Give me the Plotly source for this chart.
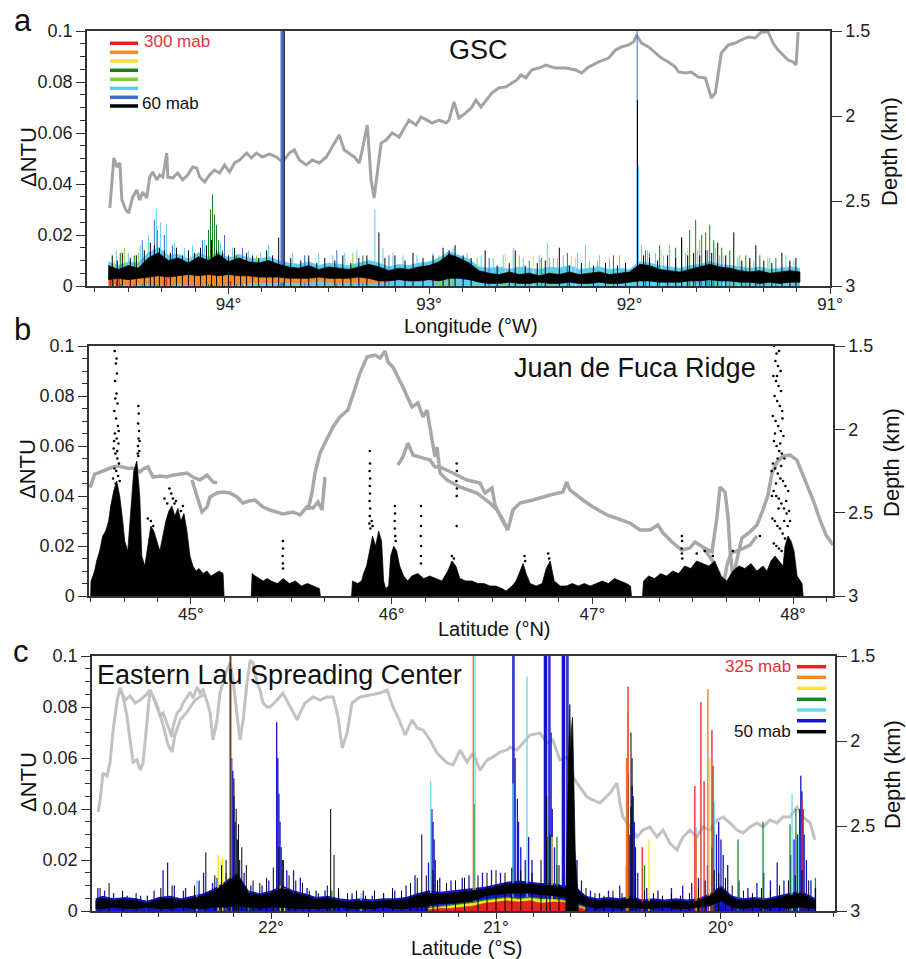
import plotly.graph_objects as go

W, H = 906, 959
FONT = "Liberation Sans, Arial, Helvetica, sans-serif"

# ======================= DATA =======================
# ---------- Panel a : GSC (longitude W, reversed) ----------
colors_a = ["#e3241e", "#f28c28", "#f0e040", "#1e7d22", "#7fcf35", "#5ccdf0", "#3f6bcc", "#000000"]
legend_a = ["300 mab", "60 mab"]

gray_a = [(94.592, 2.541), (94.582, 2.376), (94.572, 2.247), (94.557, 2.300), (94.542, 2.276), (94.532, 2.494),
          (94.512, 2.553), (94.498, 2.571), (94.478, 2.476), (94.458, 2.435), (94.443, 2.494), (94.428, 2.447),
          (94.408, 2.482), (94.393, 2.359), (94.378, 2.329), (94.358, 2.376), (94.343, 2.347), (94.328, 2.359),
          (94.308, 2.218), (94.303, 2.359), (94.279, 2.365), (94.254, 2.335), (94.229, 2.376), (94.204, 2.347),
          (94.179, 2.300), (94.159, 2.306), (94.144, 2.359), (94.119, 2.388), (94.095, 2.347), (94.070, 2.318),
          (94.045, 2.335), (94.020, 2.288), (93.995, 2.329), (93.970, 2.276), (93.945, 2.259), (93.910, 2.218),
          (93.886, 2.247), (93.861, 2.218), (93.831, 2.241), (93.796, 2.224), (93.761, 2.241), (93.731, 2.271),
          (93.697, 2.218), (93.672, 2.200), (93.647, 2.259), (93.612, 2.288), (93.582, 2.259), (93.547, 2.276),
          (93.512, 2.241), (93.483, 2.182), (93.448, 2.112), (93.423, 2.200), (93.398, 2.218), (93.373, 2.241),
          (93.348, 2.276), (93.333, 2.200), (93.308, 2.053), (93.289, 2.376), (93.274, 2.482), (93.259, 2.335),
          (93.239, 2.159), (93.214, 2.141), (93.184, 2.100), (93.149, 2.124), (93.124, 2.071), (93.100, 2.024),
          (93.065, 2.053), (93.040, 2.006), (93.010, 2.024), (92.985, 2.041), (92.950, 2.024), (92.915, 2.041),
          (92.900, 2.024), (92.876, 1.918), (92.851, 2.012), (92.816, 1.982), (92.786, 1.947), (92.766, 1.906),
          (92.741, 1.947), (92.716, 1.906), (92.687, 1.865), (92.652, 1.835), (92.617, 1.829), (92.587, 1.806),
          (92.562, 1.788), (92.542, 1.759), (92.517, 1.776), (92.488, 1.729), (92.453, 1.718), (92.418, 1.700),
          (92.368, 1.718), (92.318, 1.718), (92.269, 1.729), (92.239, 1.747), (92.204, 1.712), (92.154, 1.682),
          (92.104, 1.659), (92.070, 1.612), (92.040, 1.594), (92.005, 1.582), (91.980, 1.565), (91.965, 1.524),
          (91.940, 1.571), (91.905, 1.594), (91.871, 1.629), (91.841, 1.659), (91.806, 1.682), (91.771, 1.712),
          (91.756, 1.741), (91.721, 1.747), (91.692, 1.741), (91.657, 1.771), (91.622, 1.776), (91.607, 1.829),
          (91.592, 1.894), (91.572, 1.865), (91.557, 1.747), (91.542, 1.629), (91.507, 1.582), (91.473, 1.571),
          (91.443, 1.553), (91.408, 1.535), (91.373, 1.541), (91.343, 1.506), (91.308, 1.506), (91.284, 1.571),
          (91.259, 1.612), (91.234, 1.641), (91.209, 1.671), (91.184, 1.682), (91.169, 1.700), (91.159, 1.506)]

lon_a = [94.60, 94.55, 94.50, 94.45, 94.40, 94.35, 94.30, 94.25, 94.20, 94.15,
         94.10, 94.05, 94.00, 93.95, 93.90, 93.85, 93.80, 93.75, 93.70, 93.65,
         93.60, 93.55, 93.50, 93.45, 93.40, 93.35, 93.30, 93.25, 93.20, 93.15,
         93.10, 93.05, 93.00, 92.95, 92.90, 92.85, 92.80, 92.75, 92.70, 92.65,
         92.60, 92.55, 92.50, 92.45, 92.40, 92.35, 92.30, 92.25, 92.20, 92.15,
         92.10, 92.05, 92.00, 91.95, 91.90, 91.85, 91.80, 91.75, 91.70, 91.65,
         91.60, 91.55, 91.50, 91.45, 91.40, 91.35, 91.30, 91.25, 91.20, 91.15]
black_lo_a = [0.0025, 0.003, 0.0025, 0.003, 0.0035, 0.004, 0.0035, 0.004, 0.0045, 0.004,
              0.0045, 0.004, 0.0045, 0.004, 0.004, 0.0035, 0.0035, 0.0035, 0.003, 0.003,
              0.003, 0.0035, 0.003, 0.003, 0.003, 0.0035, 0.003, 0.002, 0.002, 0.0025,
              0.002, 0.002, 0.0025, 0.002, 0.003, 0.003, 0.0025, 0.0015, 0.001, 0.001,
              0.0015, 0.001, 0.001, 0.0015, 0.001, 0.001, 0.0015, 0.001, 0.001, 0.0015,
              0.001, 0.001, 0.0015, 0.002, 0.002, 0.0015, 0.0015, 0.0015, 0.002, 0.002,
              0.0025, 0.002, 0.002, 0.0015, 0.0015, 0.001, 0.0015, 0.001, 0.0015, 0.0015]
black_hi_a = [0.008, 0.0065, 0.008, 0.007, 0.011, 0.013, 0.010, 0.011, 0.009, 0.0115,
              0.010, 0.0125, 0.0095, 0.011, 0.0095, 0.009, 0.010, 0.0085, 0.0075, 0.007,
              0.008, 0.0065, 0.0075, 0.007, 0.0065, 0.0075, 0.0085, 0.0075, 0.006, 0.007,
              0.0065, 0.0075, 0.008, 0.0095, 0.0125, 0.011, 0.009, 0.006, 0.005, 0.0045,
              0.0055, 0.0045, 0.005, 0.004, 0.005, 0.0045, 0.0055, 0.0045, 0.005, 0.0055,
              0.0045, 0.005, 0.0055, 0.0085, 0.008, 0.0065, 0.006, 0.0055, 0.0065, 0.0075,
              0.0085, 0.0075, 0.007, 0.006, 0.0055, 0.006, 0.005, 0.0055, 0.006, 0.0055]
cyan_hi_a = [0.0095, 0.008, 0.0095, 0.009, 0.013, 0.015, 0.012, 0.0125, 0.0105, 0.013,
             0.0115, 0.0135, 0.011, 0.0125, 0.011, 0.0105, 0.0115, 0.010, 0.009, 0.0085,
             0.0095, 0.008, 0.009, 0.0085, 0.008, 0.009, 0.010, 0.009, 0.0075, 0.0085,
             0.008, 0.009, 0.0095, 0.011, 0.0135, 0.012, 0.0105, 0.0075, 0.007, 0.0075,
             0.0065, 0.0075, 0.007, 0.0065, 0.0075, 0.007, 0.008, 0.0065, 0.007, 0.0075,
             0.0065, 0.007, 0.0065, 0.0095, 0.009, 0.008, 0.0075, 0.007, 0.008, 0.0085,
             0.0095, 0.0085, 0.008, 0.0075, 0.007, 0.0075, 0.0065, 0.007, 0.0075, 0.007]
orange_lon_a = [94.60, 94.55, 94.50, 94.45, 94.40, 94.35, 94.30, 94.25, 94.20, 94.15,
                94.10, 94.05, 94.00, 93.95, 93.90, 93.85, 93.80, 93.75, 93.70, 93.65,
                93.60, 93.55, 93.50, 93.45, 93.40, 93.35, 93.30, 93.25, 93.20]
orange_lo_a = [0.0005, 0.001, 0.0003, 0.0008, 0.001, 0.0005, 0.0003, 0.001, 0.0004, 0.0002,
               0.0008, 0.0003, 0.0006, 0.001, 0.0012, 0.0015, 0.0012, 0.0015, 0.0015, 0.0012,
               0.0015, 0.0018, 0.0015, 0.0012, 0.0015, 0.0015, 0.0012, 0.0015, 0.0015]
orange_hi_a = [0.003, 0.0035, 0.003, 0.0035, 0.004, 0.0045, 0.0045, 0.005, 0.005, 0.0045,
               0.005, 0.0045, 0.005, 0.0045, 0.0045, 0.004, 0.004, 0.004, 0.0035, 0.0035,
               0.0035, 0.004, 0.0035, 0.0035, 0.004, 0.004, 0.0035, 0.003, 0.0025]

spk_a_black = [(94.58, 0.012), (94.555, 0.010), (94.53, 0.013), (94.49, 0.011), (94.46, 0.012), (94.42, 0.014),
               (94.39, 0.017), (94.37, 0.016), (94.345, 0.015), (94.32, 0.014), (94.29, 0.013), (94.26, 0.015),
               (94.23, 0.012), (94.20, 0.014), (94.17, 0.013), (94.14, 0.015), (94.11, 0.016), (94.085, 0.018),
               (94.06, 0.014), (94.03, 0.013), (94.00, 0.012), (93.97, 0.015), (93.94, 0.011), (93.91, 0.013),
               (93.88, 0.012), (93.85, 0.011), (93.81, 0.014), (93.78, 0.012), (93.75, 0.019), (93.722, 0.12),
               (93.69, 0.011), (93.64, 0.010), (93.60, 0.012), (93.56, 0.009), (93.52, 0.011), (93.47, 0.010),
               (93.43, 0.012), (93.39, 0.009), (93.35, 0.011), (93.31, 0.012), (93.25, 0.021), (93.22, 0.011),
               (93.17, 0.012), (93.12, 0.010), (93.08, 0.013), (93.03, 0.011), (92.98, 0.012), (92.93, 0.015),
               (92.90, 0.014), (92.87, 0.016), (92.83, 0.012), (92.79, 0.011), (92.72, 0.014), (92.66, 0.008),
               (92.60, 0.009), (92.57, 0.014), (92.52, 0.008), (92.46, 0.009), (92.42, 0.010), (92.35, 0.015),
               (92.30, 0.008), (92.24, 0.009), (92.18, 0.008), (92.12, 0.009), (92.06, 0.008), (92.02, 0.009),
               (91.960, 0.073), (91.93, 0.012), (91.90, 0.011), (91.86, 0.010), (91.81, 0.012), (91.77, 0.011),
               (91.74, 0.019), (91.71, 0.012), (91.68, 0.013), (91.65, 0.012), (91.62, 0.014), (91.59, 0.013),
               (91.56, 0.017), (91.52, 0.012), (91.48, 0.021), (91.44, 0.010), (91.40, 0.011), (91.37, 0.016),
               (91.33, 0.010), (91.29, 0.009), (91.24, 0.013), (91.20, 0.010), (91.17, 0.011)]
spk_a_cyan = [(94.56, 0.014), (94.50, 0.013), (94.44, 0.016), (94.40, 0.020), (94.36, 0.030), (94.34, 0.025),
              (94.31, 0.024), (94.27, 0.017), (94.22, 0.015), (94.18, 0.016), (94.12, 0.018), (94.04, 0.017),
              (93.98, 0.015), (93.90, 0.014), (93.84, 0.013), (93.80, 0.016), (93.68, 0.013), (93.62, 0.012),
              (93.55, 0.013), (93.48, 0.012), (93.42, 0.013), (93.36, 0.014), (93.27, 0.030), (93.23, 0.015),
              (93.18, 0.013), (93.13, 0.012), (93.06, 0.012), (92.98, 0.013), (92.88, 0.015), (92.81, 0.013),
              (92.74, 0.012), (92.68, 0.011), (92.63, 0.012), (92.58, 0.015), (92.53, 0.011), (92.45, 0.012),
              (92.41, 0.017), (92.36, 0.011), (92.33, 0.012), (92.26, 0.013), (92.22, 0.016), (92.15, 0.012),
              (92.10, 0.011), (92.05, 0.012), (91.955, 0.047), (91.94, 0.016), (91.91, 0.014), (91.87, 0.013),
              (91.83, 0.012), (91.72, 0.013), (91.66, 0.014), (91.55, 0.012), (91.46, 0.011), (91.38, 0.010),
              (91.30, 0.011), (91.22, 0.012), (91.18, 0.010)]
spk_a_dkgreen = [(94.54, 0.013), (94.47, 0.012), (94.10, 0.022), (94.09, 0.030), (94.08, 0.036), (94.07, 0.028),
                 (94.06, 0.024), (94.05, 0.018), (94.03, 0.014), (93.96, 0.012), (93.33, 0.012), (92.44, 0.011),
                 (92.31, 0.013), (92.08, 0.012), (91.92, 0.014), (91.85, 0.016), (91.77, 0.015), (91.74, 0.019),
                 (91.70, 0.022), (91.67, 0.026), (91.64, 0.020), (91.62, 0.021), (91.60, 0.024), (91.58, 0.018),
                 (91.54, 0.015), (91.50, 0.014), (91.42, 0.012), (91.35, 0.012), (91.27, 0.011)]
spk_a_ltgreen = [(94.52, 0.015), (94.45, 0.013), (94.14, 0.013), (93.86, 0.012), (93.38, 0.013), (92.95, 0.012),
                 (92.76, 0.011), (92.55, 0.012), (92.38, 0.011), (92.20, 0.010), (91.80, 0.016), (91.65, 0.018),
                 (91.57, 0.015), (91.45, 0.012), (91.31, 0.011)]
spk_a_ltgreen_low = [(92.96, 0.003), (92.94, 0.0035), (92.92, 0.003), (92.90, 0.0028), (92.88, 0.0025),
                     (92.62, 0.0012), (92.40, 0.0012), (92.10, 0.0012)]
spk_a_yellow = [(94.57, 0.010), (93.92, 0.011), (92.62, 0.013), (92.48, 0.012), (92.29, 0.012), (92.27, 0.011),
                (91.84, 0.014), (91.71, 0.015), (91.53, 0.012)]
spk_a_blue = [(94.43, 0.018), (94.37, 0.026), (94.355, 0.022), (94.32, 0.020), (94.28, 0.016), (94.13, 0.018),
              (94.02, 0.020), (93.93, 0.015), (93.62, 0.012), (93.46, 0.014), (93.20, 0.012), (92.70, 0.011),
              (92.50, 0.010), (91.962, 0.12), (91.90, 0.013), (91.61, 0.014)]
spk_a_blue_wide = [(93.732, 0.12)]
spk_a_orange = [(94.49, 0.010), (92.40, 0.011), (92.16, 0.010), (91.40, 0.010), (91.20, 0.009)]
spk_a_red = [(94.59, 0.003), (94.575, 0.0025), (94.56, 0.002), (94.545, 0.003), (94.31, 0.003), (93.99, 0.002)]

# ---------- Panel b : Juan de Fuca Ridge (latitude N) ----------
gray_b1 = [(44.497, 2.35), (44.52, 2.27), (44.547, 2.256), (44.58, 2.24), (44.611, 2.226), (44.64, 2.22),
           (44.661, 2.226), (44.69, 2.235), (44.706, 2.232), (44.73, 2.24), (44.746, 2.256), (44.765, 2.235),
           (44.786, 2.226), (44.811, 2.286), (44.85, 2.28), (44.880, 2.286), (44.91, 2.275), (44.945, 2.270),
           (44.980, 2.262), (45.010, 2.286), (45.045, 2.304), (45.080, 2.274), (45.110, 2.316), (45.130, 2.322)]
gray_b2 = [(45.005, 2.304), (45.030, 2.406), (45.055, 2.496), (45.080, 2.466), (45.095, 2.406), (45.130, 2.382),
           (45.159, 2.376), (45.194, 2.382), (45.229, 2.406), (45.259, 2.442), (45.289, 2.43), (45.319, 2.424),
           (45.359, 2.466), (45.394, 2.484), (45.429, 2.496), (45.458, 2.508), (45.508, 2.496), (45.543, 2.514),
           (45.578, 2.466), (45.608, 2.472), (45.633, 2.436), (45.653, 2.484), (45.668, 2.286)]
gray_b3 = [(45.583, 2.484), (45.603, 2.382), (45.618, 2.262), (45.643, 2.142), (45.683, 2.046), (45.708, 1.986),
           (45.742, 1.926), (45.782, 1.884), (45.807, 1.794), (45.842, 1.662), (45.877, 1.566), (45.917, 1.554),
           (45.942, 1.572), (45.967, 1.530), (45.982, 1.596), (46.006, 1.626), (46.056, 1.746), (46.101, 1.866),
           (46.131, 1.842), (46.156, 1.926), (46.176, 1.884), (46.201, 2.064), (46.216, 2.166), (46.226, 2.106),
           (46.241, 2.262), (46.276, 2.304), (46.340, 2.346), (46.425, 2.382), (46.490, 2.442), (46.525, 2.484),
           (46.555, 2.544), (46.579, 2.604), (46.604, 2.484), (46.639, 2.442), (46.704, 2.424), (46.789, 2.394),
           (46.853, 2.376), (46.873, 2.316), (46.888, 2.364), (46.953, 2.424), (47.003, 2.466), (47.073, 2.514),
           (47.138, 2.544), (47.187, 2.562), (47.237, 2.604), (47.287, 2.604), (47.327, 2.574), (47.352, 2.622),
           (47.402, 2.682), (47.446, 2.724), (47.486, 2.712), (47.511, 2.676), (47.551, 2.706), (47.596, 2.736),
           (47.621, 2.526), (47.636, 2.346), (47.661, 2.376), (47.676, 2.526), (47.686, 2.724), (47.701, 2.892),
           (47.720, 2.784), (47.745, 2.652), (47.785, 2.616), (47.820, 2.574), (47.850, 2.484), (47.875, 2.394),
           (47.895, 2.262), (47.920, 2.196), (47.950, 2.160), (47.985, 2.154), (48.019, 2.184), (48.044, 2.256),
           (48.074, 2.346), (48.104, 2.436), (48.134, 2.544), (48.164, 2.634), (48.199, 2.694)]
gray_b4 = [(46.031, 2.214), (46.056, 2.166), (46.081, 2.082), (46.106, 2.154), (46.15, 2.17), (46.191, 2.184),
           (46.216, 2.226), (46.241, 2.226), (46.305, 2.262), (46.375, 2.304), (46.440, 2.322), (46.465, 2.382),
           (46.500, 2.352), (46.515, 2.454), (46.550, 2.544), (46.579, 2.604)]
gray_b5 = [(47.551, 2.706), (47.596, 2.784), (47.636, 2.874), (47.656, 2.916), (47.671, 2.814), (47.691, 2.742),
           (47.735, 2.724), (47.785, 2.694), (47.820, 2.640)]

dense_b1 = [(44.500, 0.0), (44.502, 0.006), (44.52, 0.010), (44.53, 0.014), (44.545, 0.018), (44.56, 0.024),
            (44.575, 0.026), (44.59, 0.030), (44.60, 0.036), (44.615, 0.042), (44.63, 0.046), (44.645, 0.040),
            (44.66, 0.030), (44.67, 0.022), (44.685, 0.018), (44.70, 0.036), (44.715, 0.050), (44.73, 0.054),
            (44.745, 0.040), (44.755, 0.016), (44.77, 0.012), (44.785, 0.020), (44.80, 0.028), (44.815, 0.026),
            (44.83, 0.022), (44.845, 0.018), (44.86, 0.024), (44.875, 0.030), (44.89, 0.034), (44.905, 0.036),
            (44.92, 0.032), (44.935, 0.035), (44.95, 0.030), (44.965, 0.033), (44.98, 0.026), (44.995, 0.016),
            (45.01, 0.012), (45.025, 0.010), (45.04, 0.011), (45.06, 0.009), (45.08, 0.010), (45.10, 0.008),
            (45.12, 0.009), (45.14, 0.010), (45.16, 0.009), (45.165, 0.0)]
dense_b2 = [(45.30, 0.0), (45.305, 0.009), (45.32, 0.008), (45.34, 0.007), (45.36, 0.006), (45.38, 0.007),
            (45.40, 0.006), (45.43, 0.005), (45.46, 0.007), (45.49, 0.005), (45.52, 0.006), (45.55, 0.004),
            (45.58, 0.005), (45.61, 0.004), (45.64, 0.003), (45.645, 0.0)]
dense_b3 = [(45.80, 0.0), (45.805, 0.006), (45.83, 0.005), (45.85, 0.006), (45.86, 0.009), (45.875, 0.012),
            (45.89, 0.018), (45.905, 0.024), (45.92, 0.020), (45.935, 0.026), (45.95, 0.022), (45.96, 0.006),
            (45.97, 0.003), (45.985, 0.004), (45.995, 0.016), (46.01, 0.020), (46.025, 0.018), (46.04, 0.012),
            (46.06, 0.008), (46.08, 0.006), (46.10, 0.008), (46.13, 0.009), (46.16, 0.007), (46.19, 0.008),
            (46.22, 0.007), (46.25, 0.006), (46.28, 0.010), (46.30, 0.014), (46.32, 0.012), (46.34, 0.007),
            (46.37, 0.006), (46.40, 0.006), (46.43, 0.005), (46.46, 0.005), (46.49, 0.004), (46.52, 0.004),
            (46.55, 0.003), (46.57, 0.002), (46.60, 0.004), (46.62, 0.006), (46.64, 0.010), (46.655, 0.013),
            (46.67, 0.009), (46.69, 0.005), (46.72, 0.004), (46.75, 0.005), (46.77, 0.011), (46.79, 0.014),
            (46.81, 0.006), (46.84, 0.004), (46.87, 0.004), (46.90, 0.005), (46.93, 0.004), (46.96, 0.005),
            (46.99, 0.004), (47.02, 0.005), (47.05, 0.006), (47.08, 0.005), (47.11, 0.007), (47.14, 0.006),
            (47.17, 0.005), (47.19, 0.004), (47.195, 0.0)]
dense_b4 = [(47.25, 0.0), (47.255, 0.006), (47.28, 0.008), (47.31, 0.007), (47.34, 0.009), (47.37, 0.008),
            (47.40, 0.010), (47.43, 0.009), (47.46, 0.012), (47.49, 0.011), (47.52, 0.014), (47.55, 0.013),
            (47.58, 0.012), (47.61, 0.014), (47.64, 0.008), (47.67, 0.006), (47.70, 0.010), (47.73, 0.012),
            (47.76, 0.011), (47.79, 0.013), (47.82, 0.010), (47.85, 0.012), (47.87, 0.010), (47.89, 0.014),
            (47.91, 0.016), (47.93, 0.014), (47.95, 0.012), (47.96, 0.020), (47.975, 0.024), (47.99, 0.022),
            (48.005, 0.018), (48.02, 0.008), (48.035, 0.006), (48.045, 0.005), (48.05, 0.0)]
dots_b = [(44.620, 0.098), (44.626, 0.093), (44.631, 0.089), (44.622, 0.086), (44.629, 0.081), (44.634, 0.077),
          (44.618, 0.074), (44.627, 0.071), (44.636, 0.068), (44.621, 0.065), (44.630, 0.063), (44.639, 0.061),
          (44.615, 0.059), (44.624, 0.057), (44.633, 0.055), (44.641, 0.053), (44.619, 0.051), (44.628, 0.050),
          (44.637, 0.048), (44.612, 0.047), (44.645, 0.046), (44.625, 0.045), (44.632, 0.058), (44.617, 0.062),
          (44.640, 0.066), (44.623, 0.079), (44.629, 0.095),
          (44.738, 0.076), (44.740, 0.073), (44.737, 0.069), (44.741, 0.066), (44.739, 0.063), (44.736, 0.060),
          (44.742, 0.058), (44.738, 0.056), (44.744, 0.062), (44.735, 0.057),
          (44.785, 0.031), (44.800, 0.030), (44.812, 0.028), (44.868, 0.039), (44.882, 0.037), (44.893, 0.043),
          (44.902, 0.041), (44.910, 0.039), (44.918, 0.037), (44.925, 0.038), (44.950, 0.034), (44.960, 0.036),
          (45.458, 0.022), (45.459, 0.019), (45.457, 0.016), (45.458, 0.013), (45.459, 0.011),
          (45.891, 0.058), (45.892, 0.053), (45.890, 0.050), (45.893, 0.047), (45.891, 0.044), (45.892, 0.041),
          (45.890, 0.038), (45.893, 0.035), (45.891, 0.032), (45.889, 0.029), (45.894, 0.027), (45.900, 0.030),
          (45.905, 0.028),
          (46.016, 0.036), (46.017, 0.033), (46.015, 0.030), (46.016, 0.027), (46.018, 0.024), (46.020, 0.022),
          (46.146, 0.036), (46.147, 0.032), (46.146, 0.028), (46.145, 0.024), (46.147, 0.020), (46.146, 0.016),
          (46.146, 0.013),
          (46.324, 0.053), (46.325, 0.050), (46.323, 0.046), (46.325, 0.043), (46.324, 0.040), (46.324, 0.028),
          (46.300, 0.016), (46.310, 0.015),
          (46.662, 0.016), (46.665, 0.014), (46.780, 0.017), (46.785, 0.015),
          (47.446, 0.024), (47.447, 0.022), (47.445, 0.019), (47.446, 0.017), (47.448, 0.015), (47.560, 0.018),
          (47.520, 0.017), (47.600, 0.016), (47.835, 0.024), (47.700, 0.018),
          (47.905, 0.100), (47.918, 0.097), (47.930, 0.098), (47.912, 0.094), (47.925, 0.092), (47.938, 0.090),
          (47.902, 0.088), (47.915, 0.086), (47.928, 0.084), (47.940, 0.082), (47.908, 0.080), (47.921, 0.078),
          (47.934, 0.076), (47.946, 0.074), (47.899, 0.072), (47.913, 0.070), (47.926, 0.068), (47.939, 0.066),
          (47.952, 0.064), (47.905, 0.062), (47.918, 0.060), (47.931, 0.058), (47.944, 0.057), (47.957, 0.055),
          (47.900, 0.053), (47.911, 0.051), (47.924, 0.049), (47.937, 0.047), (47.950, 0.046), (47.962, 0.044),
          (47.903, 0.042), (47.916, 0.040), (47.929, 0.039), (47.942, 0.037), (47.955, 0.035), (47.968, 0.033),
          (47.897, 0.031), (47.909, 0.030), (47.922, 0.028), (47.935, 0.027), (47.948, 0.025), (47.960, 0.023),
          (47.973, 0.028), (47.980, 0.034), (47.904, 0.021), (47.917, 0.020), (47.930, 0.019), (47.943, 0.018),
          (47.956, 0.030), (47.966, 0.038), (47.976, 0.042), (47.985, 0.030), (47.910, 0.065), (47.923, 0.055),
          (47.936, 0.061), (47.947, 0.071), (47.915, 0.045), (47.928, 0.035), (47.941, 0.052), (47.920, 0.088),
          (47.893, 0.050), (47.895, 0.040)]

# ---------- Panel c : Eastern Lau Spreading Center (latitude S, reversed) ----------
colors_c = ["#e8221e", "#f28a1e", "#f4e81a", "#178a2c", "#6cd8f0", "#1414c8", "#000000"]
legend_c = ["325 mab", "50 mab"]

gray_c1 = [(22.769, 2.418), (22.760, 2.347), (22.747, 2.188), (22.729, 2.206), (22.716, 2.129), (22.702, 1.935),
           (22.684, 1.759), (22.671, 1.688), (22.658, 1.741), (22.640, 1.859), (22.627, 1.994), (22.613, 2.124),
           (22.596, 2.112), (22.582, 2.171), (22.569, 2.129), (22.551, 1.859), (22.538, 1.700), (22.524, 1.741),
           (22.507, 1.800), (22.493, 1.853), (22.480, 1.835), (22.462, 1.894), (22.449, 1.935), (22.440, 1.976),
           (22.436, 1.918), (22.418, 1.835), (22.404, 1.818), (22.391, 1.776), (22.373, 1.741), (22.360, 1.712),
           (22.347, 1.747), (22.329, 1.682), (22.316, 1.718), (22.302, 1.700), (22.284, 1.771), (22.271, 1.835),
           (22.258, 1.994), (22.240, 1.876), (22.227, 1.718), (22.213, 1.659), (22.196, 1.582), (22.182, 1.541),
           (22.169, 1.641), (22.151, 1.847), (22.138, 1.994), (22.124, 1.876), (22.107, 1.659), (22.093, 1.524),
           (22.080, 1.541), (22.062, 1.659), (22.049, 1.700), (22.036, 1.776), (22.018, 1.800), (22.004, 1.800),
           (21.973, 1.759), (21.947, 1.718), (21.916, 1.800), (21.884, 1.876), (21.871, 1.835), (21.849, 1.776),
           (21.813, 1.741), (21.782, 1.759), (21.751, 1.741), (21.724, 1.741), (21.702, 1.859), (21.684, 2.041),
           (21.662, 1.953), (21.640, 1.776), (21.604, 1.741), (21.560, 1.729), (21.516, 1.718), (21.484, 1.700),
           (21.458, 1.800), (21.436, 1.859), (21.404, 1.965), (21.373, 1.876), (21.351, 1.924), (21.324, 1.935),
           (21.293, 1.994), (21.262, 2.071), (21.218, 2.129), (21.191, 2.141), (21.160, 2.053), (21.129, 2.124),
           (21.102, 2.071), (21.071, 2.171), (21.040, 2.112), (21.013, 2.094), (20.982, 2.065), (20.951, 2.053),
           (20.938, 2.035), (20.907, 2.053), (20.880, 2.012), (20.849, 1.965), (20.804, 1.953), (20.773, 2.012),
           (20.747, 1.994), (20.716, 2.112), (20.684, 2.094), (20.658, 2.212), (20.627, 2.271), (20.596, 2.329),
           (20.569, 2.347), (20.538, 2.365), (20.493, 2.306), (20.462, 2.247), (20.449, 2.365), (20.436, 2.447),
           (20.404, 2.506), (20.373, 2.565), (20.347, 2.524), (20.316, 2.506), (20.284, 2.565), (20.258, 2.524),
           (20.227, 2.600), (20.196, 2.641), (20.169, 2.565), (20.138, 2.524), (20.107, 2.565), (20.080, 2.506),
           (20.049, 2.524), (20.018, 2.465), (19.991, 2.447), (19.960, 2.482), (19.929, 2.524), (19.902, 2.541),
           (19.871, 2.506), (19.840, 2.482), (19.813, 2.506), (19.782, 2.465), (19.751, 2.482), (19.724, 2.447),
           (19.693, 2.447), (19.662, 2.388), (19.636, 2.447), (19.604, 2.482), (19.582, 2.582)]
gray_c2 = [(22.671, 1.688), (22.649, 1.759), (22.627, 1.735), (22.604, 1.776), (22.582, 1.759), (22.560, 1.735),
           (22.538, 1.700)]
gray_c3 = [(22.538, 1.700), (22.507, 1.788), (22.480, 1.906), (22.458, 2.024), (22.440, 2.065), (22.427, 1.965),
           (22.404, 1.876), (22.373, 1.829), (22.338, 1.759), (22.302, 1.729)]

lat_c = [22.78, 22.75, 22.70, 22.65, 22.60, 22.55, 22.50, 22.45, 22.40, 22.35,
         22.30, 22.25, 22.20, 22.15, 22.10, 22.05, 22.00, 21.95, 21.90, 21.85,
         21.80, 21.75, 21.70, 21.65, 21.60, 21.55, 21.50, 21.45, 21.40, 21.35,
         21.30, 21.25, 21.20, 21.15, 21.10, 21.05, 21.00, 20.95, 20.90, 20.85,
         20.80, 20.75, 20.70, 20.65, 20.60, 20.55, 20.50, 20.45, 20.40, 20.35,
         20.30, 20.25, 20.20, 20.15, 20.10, 20.05, 20.00, 19.95, 19.90, 19.85,
         19.80, 19.75, 19.70, 19.65, 19.60, 19.58]
black_hi_c = [0.004, 0.005, 0.004, 0.0045, 0.004, 0.003, 0.0045, 0.005, 0.004, 0.005,
              0.006, 0.008, 0.011, 0.014, 0.007, 0.006, 0.007, 0.009, 0.007, 0.006,
              0.0045, 0.005, 0.004, 0.0035, 0.004, 0.0035, 0.004, 0.004, 0.0045, 0.006,
              0.007, 0.0065, 0.007, 0.0075, 0.008, 0.0085, 0.0095, 0.0105, 0.011, 0.0105,
              0.010, 0.010, 0.009, 0.009, 0.005, 0.004, 0.0045, 0.004, 0.005, 0.0035,
              0.004, 0.0035, 0.004, 0.0035, 0.004, 0.006, 0.009, 0.005, 0.004, 0.0045,
              0.004, 0.005, 0.006, 0.007, 0.005, 0.004]
black_lo_c = [0.001, 0.001, 0.0015, 0.001, 0.001, 0.0015, 0.001, 0.001, 0.0015, 0.001,
              0.001, 0.0015, 0.0015, 0.002, 0.0015, 0.001, 0.0015, 0.0015, 0.001, 0.001,
              0.001, 0.001, 0.0015, 0.001, 0.001, 0.001, 0.0015, 0.001, 0.001, 0.0015,
              0.002, 0.003, 0.003, 0.0035, 0.004, 0.006, 0.0065, 0.007, 0.007, 0.007,
              0.0065, 0.006, 0.0055, 0.004, 0.002, 0.001, 0.0015, 0.001, 0.0015, 0.001,
              0.001, 0.0015, 0.001, 0.001, 0.0015, 0.002, 0.004, 0.0015, 0.001, 0.0015,
              0.001, 0.0015, 0.001, 0.0015, 0.001, 0.001]
blue_hi_c = [0.005, 0.006, 0.005, 0.0055, 0.005, 0.004, 0.0055, 0.006, 0.005, 0.006,
             0.007, 0.009, 0.012, 0.015, 0.008, 0.007, 0.008, 0.010, 0.008, 0.007,
             0.0055, 0.006, 0.005, 0.0045, 0.005, 0.0045, 0.005, 0.005, 0.0055, 0.007,
             0.008, 0.0075, 0.008, 0.0085, 0.009, 0.0095, 0.0105, 0.0115, 0.012, 0.0115,
             0.011, 0.011, 0.010, 0.010, 0.006, 0.005, 0.0055, 0.005, 0.006, 0.0045,
             0.005, 0.0045, 0.005, 0.0045, 0.005, 0.007, 0.010, 0.006, 0.005, 0.0055,
             0.005, 0.006, 0.007, 0.008, 0.006, 0.005]
lat_c_sub = [21.30, 21.25, 21.20, 21.15, 21.10, 21.05, 21.00, 20.95, 20.90, 20.85, 20.80, 20.75, 20.70, 20.65, 20.60]
green_under_c = [0.0015, 0.002, 0.0025, 0.003, 0.0035, 0.0045, 0.005, 0.0055, 0.005, 0.0055, 0.005, 0.0045, 0.0045, 0.003, 0.0015]
yellow_under_c = [0.001, 0.0015, 0.002, 0.0025, 0.003, 0.004, 0.0045, 0.005, 0.0045, 0.005, 0.0045, 0.0045, 0.004, 0.0025, 0.001]
red_under_c = [0.0005, 0.001, 0.001, 0.0015, 0.002, 0.003, 0.0035, 0.004, 0.0035, 0.004, 0.003, 0.0035, 0.0035, 0.002, 0.0005]

spk_c_blue = [(22.77, 0.009), (22.74, 0.008), (22.70, 0.007), (22.64, 0.006), (22.58, 0.006), (22.52, 0.008),
              (22.48, 0.016), (22.46, 0.019), (22.43, 0.010), (22.38, 0.009), (22.32, 0.012), (22.30, 0.015),
              (22.26, 0.011), (22.24, 0.013), (22.20, 0.015), (22.175, 0.060), (22.17, 0.055), (22.165, 0.045),
              (22.16, 0.035), (22.15, 0.028), (22.14, 0.020), (22.12, 0.015), (22.09, 0.010), (22.04, 0.010),
              (22.01, 0.012), (21.975, 0.074), (21.97, 0.060), (21.965, 0.046), (21.96, 0.035), (21.955, 0.025),
              (21.945, 0.020), (21.93, 0.016), (21.90, 0.016), (21.87, 0.013), (21.84, 0.009), (21.80, 0.008),
              (21.76, 0.008), (21.70, 0.007), (21.64, 0.007), (21.59, 0.008), (21.55, 0.006), (21.50, 0.007),
              (21.45, 0.008), (21.40, 0.010), (21.36, 0.014), (21.30, 0.019), (21.285, 0.040), (21.28, 0.035),
              (21.275, 0.028), (21.27, 0.020), (21.25, 0.013), (21.20, 0.012), (21.15, 0.013), (21.12, 0.014),
              (21.06, 0.015), (21.02, 0.016), (20.98, 0.015), (20.925, 0.12), (20.92, 0.12), (20.915, 0.06),
              (20.905, 0.044), (20.90, 0.035), (20.89, 0.025), (20.87, 0.020), (20.855, 0.029), (20.84, 0.020),
              (20.785, 0.12), (20.78, 0.12), (20.775, 0.12), (20.765, 0.12), (20.76, 0.12), (20.755, 0.07),
              (20.75, 0.040), (20.74, 0.025), (20.73, 0.018), (20.705, 0.12), (20.70, 0.12), (20.695, 0.12),
              (20.685, 0.12), (20.68, 0.12), (20.675, 0.05), (20.66, 0.030), (20.64, 0.020), (20.62, 0.012),
              (20.58, 0.008), (20.54, 0.007), (20.50, 0.008), (20.45, 0.010), (20.42, 0.018), (20.405, 0.030),
              (20.40, 0.041), (20.395, 0.049), (20.39, 0.045), (20.385, 0.035), (20.38, 0.025), (20.37, 0.015),
              (20.33, 0.009), (20.28, 0.008), (20.22, 0.009), (20.17, 0.010), (20.13, 0.011), (20.10, 0.013),
              (20.06, 0.018), (20.04, 0.025), (20.03, 0.033), (20.02, 0.030), (20.01, 0.035), (20.00, 0.028),
              (19.99, 0.022), (19.97, 0.018), (19.92, 0.012), (19.88, 0.009), (19.84, 0.011), (19.81, 0.015),
              (19.78, 0.012), (19.75, 0.019), (19.72, 0.012), (19.69, 0.022), (19.675, 0.028), (19.66, 0.030),
              (19.65, 0.040), (19.645, 0.053), (19.64, 0.047), (19.635, 0.040), (19.63, 0.030), (19.62, 0.020),
              (19.60, 0.012), (19.58, 0.009)]
spk_c_cyan = [(22.55, 0.006), (22.33, 0.012), (21.60, 0.007), (21.29, 0.051), (21.093, 0.12), (20.925, 0.050),
              (20.862, 0.092), (20.415, 0.033), (20.11, 0.033), (20.03, 0.043), (19.684, 0.046), (19.655, 0.030)]
spk_c_green = [(22.10, 0.008), (21.73, 0.008), (21.098, 0.042), (20.77, 0.029), (20.729, 0.029), (20.412, 0.054),
               (20.34, 0.018), (20.035, 0.057), (19.924, 0.028), (19.813, 0.035), (19.693, 0.034), (19.667, 0.040),
               (19.58, 0.013)]
spk_c_yellow = [(22.235, 0.022), (22.22, 0.020), (22.215, 0.021), (22.20, 0.015), (21.96, 0.010), (21.94, 0.009),
                (20.415, 0.078), (20.32, 0.028), (20.05, 0.060), (20.751, 0.029), (19.70, 0.006)]
spk_c_orange = [(22.178, 0.12), (21.101, 0.12), (20.058, 0.087), (20.11, 0.030), (20.42, 0.060)]
spk_c_red = [(20.413, 0.088), (20.35, 0.025), (20.116, 0.049), (20.089, 0.082), (20.075, 0.051), (20.04, 0.071),
             (19.64, 0.043)]
spk_c_black = [(22.76, 0.009), (22.72, 0.011), (22.66, 0.008), (22.60, 0.007), (22.55, 0.006), (22.49, 0.009),
               (22.44, 0.010), (22.39, 0.008), (22.34, 0.010), (22.29, 0.023), (22.25, 0.014), (22.22, 0.018),
               (22.20, 0.020), (22.182, 0.12), (22.165, 0.052), (22.155, 0.040), (22.145, 0.034), (22.13, 0.025),
               (22.11, 0.018), (22.08, 0.012), (22.05, 0.011), (22.02, 0.013), (21.99, 0.017), (21.965, 0.025),
               (21.95, 0.020), (21.92, 0.014), (21.89, 0.012), (21.86, 0.011), (21.83, 0.008), (21.79, 0.007),
               (21.75, 0.010), (21.735, 0.040), (21.72, 0.022), (21.70, 0.009), (21.66, 0.007), (21.62, 0.008),
               (21.58, 0.006), (21.54, 0.008), (21.50, 0.007), (21.46, 0.009), (21.42, 0.008), (21.38, 0.011),
               (21.35, 0.013), (21.33, 0.030), (21.31, 0.014), (21.28, 0.016), (21.26, 0.012), (21.22, 0.011),
               (21.18, 0.012), (21.14, 0.013), (21.08, 0.014), (21.04, 0.015), (21.00, 0.016), (20.96, 0.015),
               (20.93, 0.017), (20.89, 0.016), (20.84, 0.015), (20.80, 0.020), (20.775, 0.045), (20.76, 0.030),
               (20.72, 0.018), (20.60, 0.009), (20.56, 0.007), (20.52, 0.006), (20.48, 0.008), (20.44, 0.007),
               (20.40, 0.070), (20.395, 0.060), (20.38, 0.015), (20.34, 0.008), (20.30, 0.007), (20.26, 0.006),
               (20.22, 0.007), (20.18, 0.006), (20.14, 0.007), (20.10, 0.009), (20.07, 0.012), (20.03, 0.016),
               (20.01, 0.015), (19.98, 0.013), (19.95, 0.010), (19.90, 0.008), (19.86, 0.007), (19.82, 0.009),
               (19.78, 0.008), (19.74, 0.010), (19.70, 0.012), (19.67, 0.014), (19.64, 0.016), (19.61, 0.012),
               (19.58, 0.009)]
peak_c_black = [(20.690, 0.0), (20.688, 0.012), (20.684, 0.030), (20.680, 0.050), (20.676, 0.066), (20.672, 0.081),
                (20.668, 0.062), (20.664, 0.072), (20.660, 0.076), (20.656, 0.060), (20.652, 0.040), (20.648, 0.024),
                (20.642, 0.014), (20.636, 0.008), (20.634, 0.0)]

# ======================= FIGURE =======================
fig = go.Figure()


def add_line(xs, ys, xa, ya, color, width):
    fig.add_trace(go.Scatter(x=list(xs), y=list(ys), mode="lines", line=dict(color=color, width=width),
                             xaxis=xa, yaxis=ya, hoverinfo="skip", showlegend=False, connectgaps=False))


def add_track(pairs, xa, ya, color, width):
    xs, ys = zip(*pairs)
    add_line(xs, ys, xa, ya, color, width)


def add_spikes(pairs, xa, ya, color, width=1.0):
    X, Y = [], []
    for x, top in pairs:
        X += [x, x, None]
        Y += [0.0, top, None]
    add_line(X, Y, xa, ya, color, width)


def add_band(xs, lo, hi, xa, ya, color):
    xs = list(xs)
    fig.add_trace(go.Scatter(x=xs + xs[::-1], y=list(hi) + list(lo)[::-1], mode="lines", fill="toself",
                             fillcolor=color, line=dict(color=color, width=0.7), xaxis=xa, yaxis=ya,
                             hoverinfo="skip", showlegend=False))


def add_area(xs, ys, xa, ya, color, lw=0.7):
    fig.add_trace(go.Scatter(x=list(xs), y=list(ys), mode="lines", fill="tozeroy", fillcolor=color,
                             line=dict(color=color, width=lw), xaxis=xa, yaxis=ya,
                             hoverinfo="skip", showlegend=False))


RED, ORANGE, YELLOW, DKGREEN, LTGREEN, CYAN, BLUE, BLACK = colors_a
# ---- panel a ----
add_track(gray_a, "x", "y", "#a3a3a3", 3)
add_area(lon_a, cyan_hi_a, "x", "y2", CYAN)
add_spikes(spk_a_ltgreen, "x", "y2", LTGREEN)
add_spikes(spk_a_yellow, "x", "y2", YELLOW)
add_spikes(spk_a_dkgreen, "x", "y2", DKGREEN)
add_spikes(spk_a_cyan, "x", "y2", CYAN)
add_spikes(spk_a_orange, "x", "y2", ORANGE)
add_spikes(spk_a_blue, "x", "y2", BLUE)
add_spikes(spk_a_blue_wide, "x", "y2", "#4d72c4", 3.5)
add_band(orange_lon_a, orange_lo_a, orange_hi_a, "x", "y2", ORANGE)
add_spikes(spk_a_red, "x", "y2", RED, 1.5)
add_spikes(spk_a_ltgreen_low, "x", "y2", LTGREEN, 1.5)
add_band(lon_a, black_lo_a, black_hi_a, "x", "y2", BLACK)
add_spikes(spk_a_black, "x", "y2", BLACK, 1.0)

# ---- panel b ----
for tr in [gray_b1, gray_b2, gray_b3, gray_b4, gray_b5]:
    add_track(tr, "x2", "y3", "#a8a8a8", 3.5)
for seg in [dense_b1, dense_b2, dense_b3, dense_b4]:
    xs, ys = zip(*seg)
    add_area(xs, ys, "x2", "y4", "#000000")
dx, dy = zip(*dots_b)
fig.add_trace(go.Scatter(x=dx, y=dy, mode="markers", marker=dict(color="black", size=2.6),
                         xaxis="x2", yaxis="y4", hoverinfo="skip", showlegend=False))

# ---- panel c ----
cRED, cORANGE, cYELLOW, cGREEN, cCYAN, cBLUE, cBLACK = colors_c
for tr in [gray_c1, gray_c2, gray_c3]:
    add_track(tr, "x3", "y5", "#c2c2c2", 3)
add_area(lat_c, blue_hi_c, "x3", "y6", cBLUE, lw=0)
add_spikes(spk_c_blue, "x3", "y6", cBLUE, 1.3)
add_spikes(spk_c_cyan, "x3", "y6", cCYAN, 1.3)
add_spikes(spk_c_green, "x3", "y6", cGREEN, 1.3)
add_spikes(spk_c_yellow, "x3", "y6", cYELLOW, 1.3)
add_spikes(spk_c_orange, "x3", "y6", "#e07b20", 1.3)
add_spikes(spk_c_red, "x3", "y6", cRED, 1.3)
add_area(lat_c_sub, green_under_c, "x3", "y6", cGREEN)
add_area(lat_c_sub, yellow_under_c, "x3", "y6", cYELLOW)
add_area(lat_c_sub, red_under_c, "x3", "y6", cRED)
add_band(lat_c, black_lo_c, black_hi_c, "x3", "y6", cBLACK)
px_, py_ = zip(*peak_c_black)
add_area(px_, py_, "x3", "y6", cBLACK)
add_spikes(spk_c_black, "x3", "y6", cBLACK, 1.0)


# ======================= AXES =======================
def fx(p):
    return p / W


def fy(p):
    return 1 - p / H


TICKFONT = dict(family=FONT, size=18, color="#222222")
XTICKFONT = dict(family=FONT, size=17, color="#222222")
LINE = dict(showline=True, linecolor="#333333", linewidth=1.5, showgrid=False, zeroline=False, automargin=False)


def xcfg(x0, x1, rng, anchor, standoff=-4):
    return dict(domain=[fx(x0), fx(x1)], range=rng, anchor=anchor, tick0=0, dtick=1, ticksuffix="°",
                ticks="outside", ticklen=6, tickwidth=1.2, tickcolor="#333333", mirror=True,
                ticklabelstandoff=standoff,
                minor=dict(tick0=0, dtick=1 / 6, ticks="outside", ticklen=4, tickwidth=1, tickcolor="#333333"),
                tickfont=XTICKFONT, **LINE)


def depth_cfg(y0, y1, anchor):
    return dict(domain=[fy(y1), fy(y0)], range=[3, 1.5], anchor=anchor, side="right", tick0=0, dtick=0.5,
                ticks="outside", ticklen=10, tickwidth=1.2, tickcolor="#333333", tickfont=TICKFONT, **LINE)


def ntu_cfg(overlay, anchor):
    return dict(overlaying=overlay, anchor=anchor, side="left", range=[0, 0.1], tick0=0, dtick=0.02,
                ticks="outside", ticklen=9, tickwidth=1.2, tickcolor="#333333",
                minor=dict(tick0=0, dtick=0.005, ticks="outside", ticklen=5, tickwidth=1, tickcolor="#333333"),
                tickfont=TICKFONT, **LINE)


annotations = []


def note(text, x, y, size, color="#111111", xanchor="center", angle=0):
    annotations.append(dict(text=text, x=fx(x), y=fy(y), xref="paper", yref="paper", showarrow=False,
                            xanchor=xanchor, yanchor="middle", textangle=angle,
                            font=dict(family=FONT, size=size, color=color)))


for t, x, y in [("a", 23, 21), ("b", 22, 329), ("c", 21, 651)]:
    note(t, x, y, 31)
note("GSC", 478, 50, 27)
note("Juan de Fuca Ridge", 635, 368, 27)
note("Eastern Lau Spreading Center", 95, 675, 27, xanchor="left")
note("Longitude (°W)", 471, 326, 20)
note("Latitude (°N)", 494, 629, 20)
note("Latitude (°S)", 467, 948, 20)
for y in [157, 469, 782]:
    note("ΔNTU", 28, y, 22, angle=-90)
for x, y in [(889, 152), (892, 463), (892, 775)]:
    note("Depth (km)", x, y, 22, angle=-90)
note(legend_a[0], 142, 41, 17, color="#e3323a", xanchor="left")
note(legend_a[1], 140, 104, 17, xanchor="left")
note(legend_c[0], 793, 666, 17, color="#e3323a", xanchor="right")
note(legend_c[1], 793, 731, 17, xanchor="right")

shapes = []
for c, y in zip(colors_a, [43.3, 52.3, 61, 70.3, 79.3, 88.3, 97.3, 106]):
    shapes.append(dict(type="line", xref="paper", yref="paper", x0=fx(110), x1=fx(138), y0=fy(y), y1=fy(y),
                       line=dict(color=c, width=3.5)))
for c, y in zip(colors_c, [666.7, 677.3, 688.3, 699.3, 710, 720.7, 731.7]):
    shapes.append(dict(type="line", xref="paper", yref="paper", x0=fx(797), x1=fx(826), y0=fy(y), y1=fy(y),
                       line=dict(color=c, width=3.5)))

fig.update_layout(
    width=W, height=H, margin=dict(l=0, r=0, t=0, b=0, autoexpand=False), autosize=False,
    paper_bgcolor="white", plot_bgcolor="white", showlegend=False,
    xaxis=xcfg(87, 830, [94.706, 91.0], "y"),
    yaxis=depth_cfg(31, 286, "x"),
    yaxis2=ntu_cfg("y", "x"),
    xaxis2=xcfg(89, 833, [44.492, 48.199], "y3"),
    yaxis3=depth_cfg(346, 596, "x2"),
    yaxis4=ntu_cfg("y3", "x2"),
    xaxis3=xcfg(92, 835, [22.796, 19.493], "y5", standoff=-6),
    yaxis5=depth_cfg(656, 911, "x3"),
    yaxis6=ntu_cfg("y5", "x3"),
    annotations=annotations, shapes=shapes,
)

fig.write_html("out.html",
               post_script="document.body.style.margin='0';document.body.style.padding='0';"
                           "document.body.style.overflow='hidden';")
